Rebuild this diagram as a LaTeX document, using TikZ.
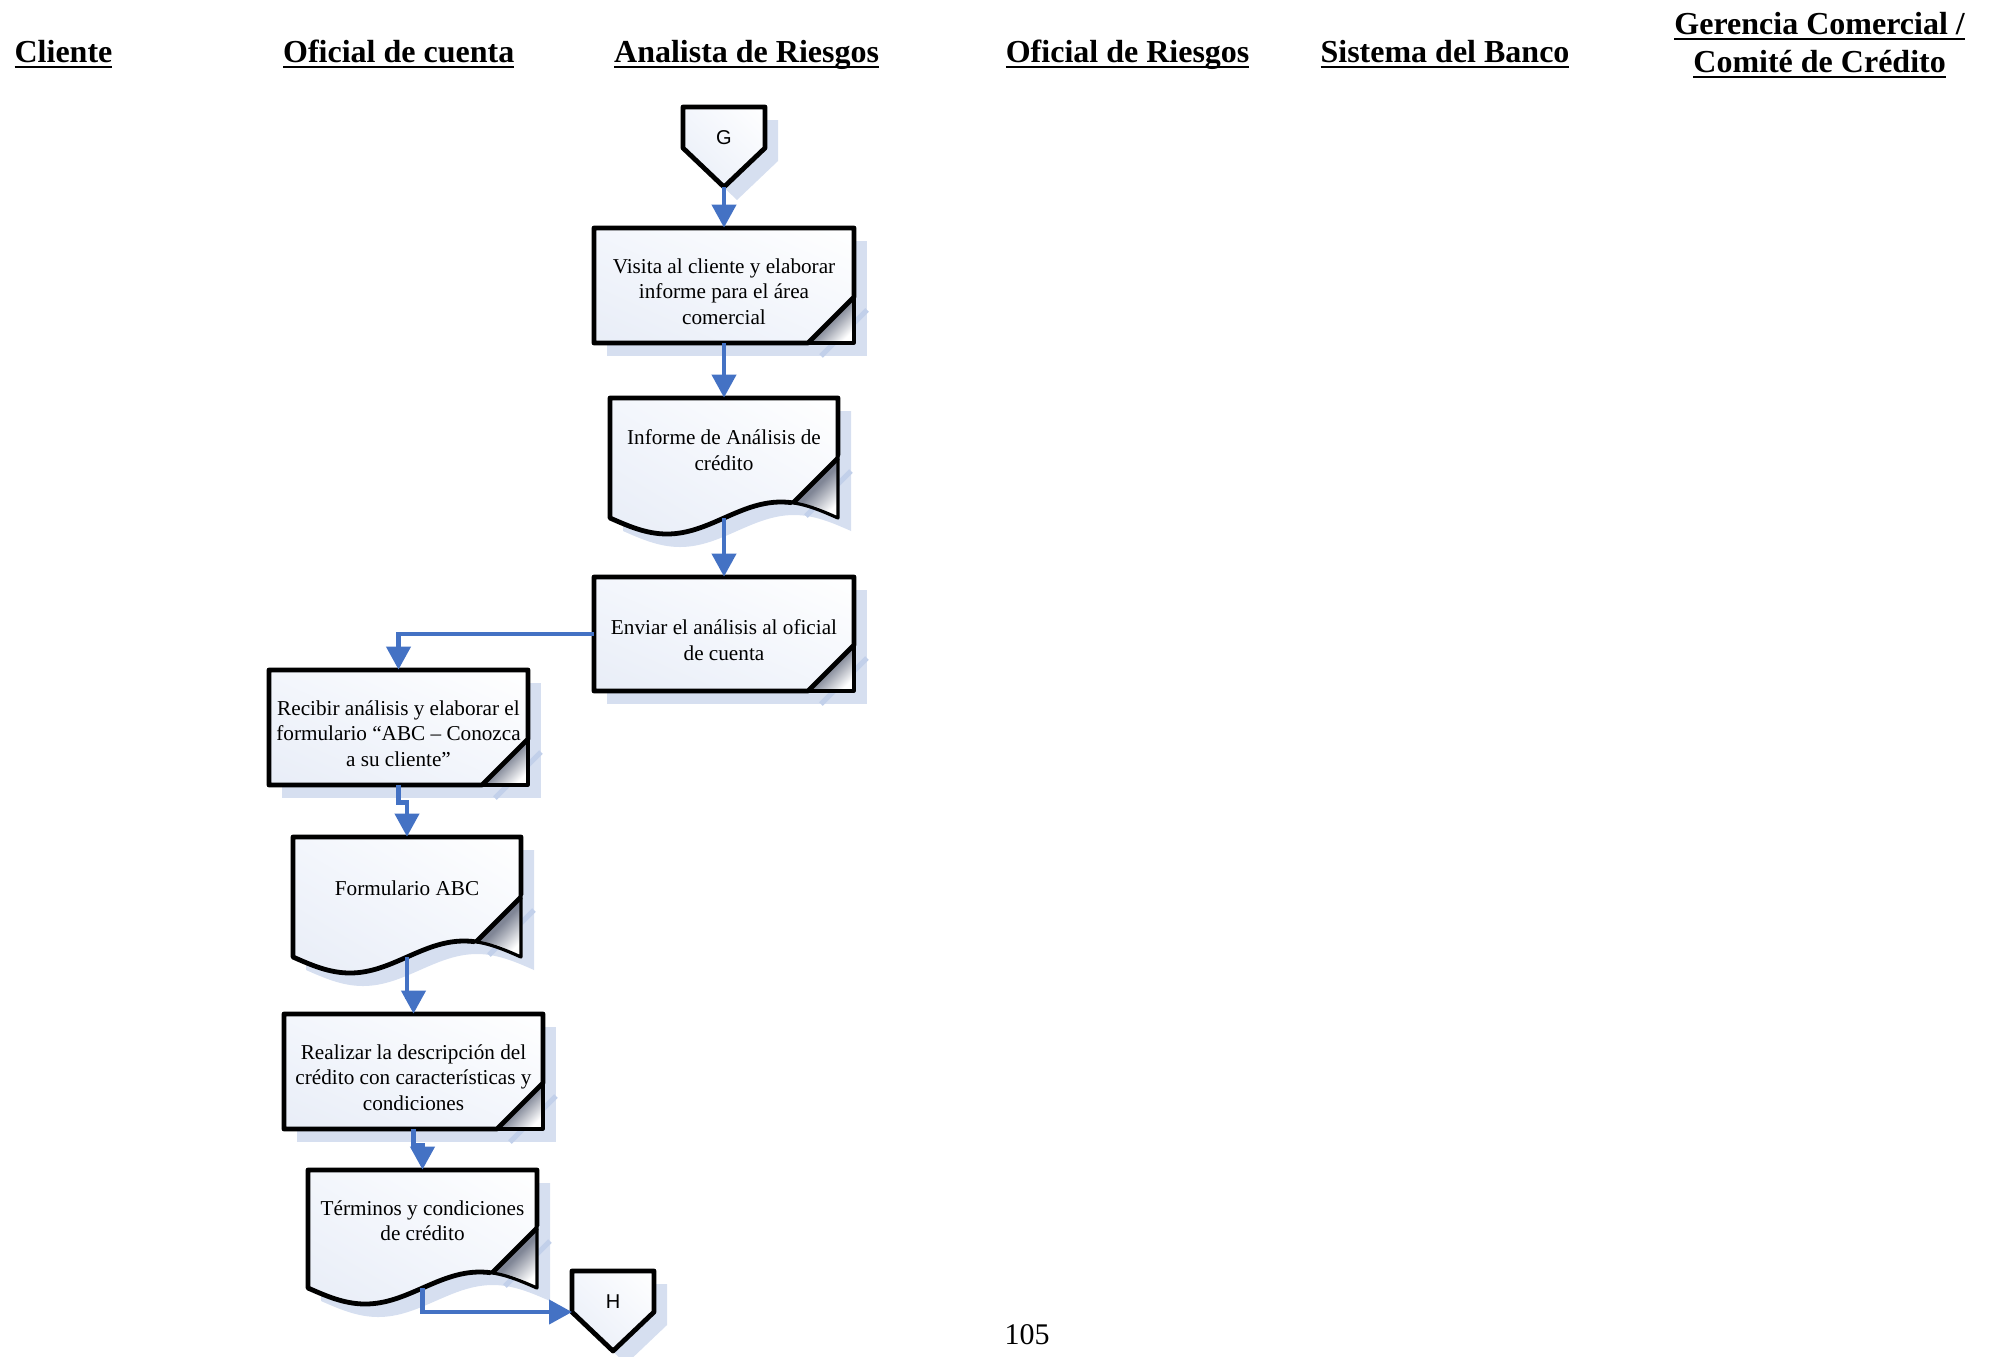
\documentclass[tikz,border=0pt]{standalone}
\usepackage{fontspec}
\setmainfont{Liberation Serif}
\newfontfamily\conlabel{Liberation Sans}
\usetikzlibrary{arrows.meta,calc,fit,shadings}

\definecolor{flowblue}{RGB}{68,114,196}
\definecolor{shadowfill}{RGB}{214,223,240}
\definecolor{shadowedge}{RGB}{194,208,234}
\definecolor{foldgray}{RGB}{128,134,150}
\definecolor{boxtint}{RGB}{232,237,247}
\definecolor{boxtintb}{RGB}{243,246,252}

% underlined column heading
\newcommand\hul[1]{\setbox0=\hbox{#1}\rlap{\rule[-3.2pt]{\wd0}{1.2pt}}\box0}

\tikzset{
  outline/.style={draw=black, line width=2.4pt, line join=round},
  thinoutline/.style={draw=black, line width=1.6pt, line join=round},
  shadowshape/.style={fill=shadowfill},
  shadowdiag/.style={draw=shadowedge, line width=2.6pt},
  bodyshade/.style={lower left=boxtint, upper left=boxtintb, lower right=boxtintb, upper right=white},
  foldshade/.style={top color=foldgray, bottom color=white, middle color=foldgray, shading angle=45},
  conn/.style={draw=flowblue, line width=2.1pt, -{Triangle[length=11.5pt,width=12pt]}},
  boxtext/.style={font=\fontsize{10.6}{12.7}\selectfont, align=center, text=black},
  header/.style={font=\fontsize{16}{19}\selectfont\bfseries, anchor=base},
  docpath/.style={insert path={(\xa,\ya) -- (\xb,\ya) -- (\xb,\yb) sin (\xb-\q,\yb-16) cos (\xb-2*\q,\yb) sin (\xa+\q,\yb+16) cos (\xa,\yb) -- cycle}},
  pentpath/.style={insert path={(\cx-41,\ty) -- (\cx+41,\ty) -- (\cx+41,\ty+41) -- (\cx,\ty+80) -- (\cx-41,\ty+41) -- cycle}},
}

% process box with folded lower right corner: name, x1, y1, x2, y2, text
\newcommand\procbox[6]{%
  \pgfmathsetmacro\xa{#2}\pgfmathsetmacro\ya{#3}%
  \pgfmathsetmacro\xb{#4}\pgfmathsetmacro\yb{#5}%
  \fill[shadowshape] (\xa+13,\ya+13) rectangle (\xb+13,\yb+13);
  \draw[shadowdiag] (\xb-33,\yb+13) -- (\xb+13,\yb-33);
  \shade[bodyshade] (\xa,\ya) rectangle (\xb,\yb);
  \shade[foldshade] (\xb-46,\yb) -- (\xb,\yb-46) -- (\xb,\yb) -- cycle;
  \draw[thinoutline] (\xb,\yb-46) -- (\xb,\yb) -- (\xb-46,\yb);
  \draw[outline] (\xb-46,\yb) -- (\xa,\yb) -- (\xa,\ya) -- (\xb,\ya) -- (\xb,\yb-46) -- cycle;
  \node[fit={(\xa,\ya) (\xb,\yb)}, inner sep=0pt] (#1) {};
  \node[boxtext] (#1-t) at (\xa/2+\xb/2,\ya/2+\yb/2+6) {#6};
}

% document shape with wavy bottom: name, x1, y1, x2, y2, text, text centre y
\newcommand\docbox[7]{%
  \pgfmathsetmacro\xa{#2}\pgfmathsetmacro\ya{#3}%
  \pgfmathsetmacro\xb{#4}\pgfmathsetmacro\yb{#5}%
  \pgfmathsetmacro\q{(#4-#2)/4}%
  \begin{scope}[shift={(13,13)}]
    \fill[shadowshape, docpath];
    \draw[shadowdiag] (\xb-45,\yb-15) -- (\xb,\yb-60);
  \end{scope}
  \shade[bodyshade, docpath];
  \shade[foldshade] (\xb-45,\yb-15) -- (\xb,\yb-60) -- (\xb,\yb) .. controls (\xb-20,\yb-12) .. (\xb-45,\yb-15) -- cycle;
  \draw[thinoutline, docpath];
  \begin{scope}
    \clip (\xa-20,\ya-20) -- (\xb+20,\ya-20) -- (\xb+20,\yb-80) -- (\xb-80,\yb+20) -- (\xa-20,\yb+40) -- cycle;
    \draw[outline, docpath];
  \end{scope}
  \draw[outline] (\xb-45,\yb-15) -- (\xb,\yb-60);
  \node[fit={(\xa,\ya) (\xb,\yb)}, inner sep=0pt] (#1) {};
  \coordinate (#1-mid) at (\xa+2*\q,\yb);
  \node[boxtext] (#1-t) at (\xa+2*\q,#7) {#6};
}

% off-page connector: name, centre x, top y, letter
\newcommand\offpage[4]{%
  \pgfmathsetmacro\cx{#2}\pgfmathsetmacro\ty{#3}%
  \begin{scope}[shift={(13,13)}]
    \fill[shadowshape, pentpath];
  \end{scope}
  \shade[bodyshade, pentpath];
  \draw[outline, pentpath];
  \node[font=\conlabel\fontsize{10}{12}\selectfont] (#1) at (\cx,\ty+31) {#4};
  \coordinate (#1-tip) at (\cx,\ty+80);
  \coordinate (#1-in) at (\cx-41,\ty+41);
}

\begin{document}
\begin{tikzpicture}[x=0.5pt,y=-0.5pt]
  \useasboundingbox (0,0) rectangle (1991,1356);

  % column headings
  \node[header] (hcli) at (63.5,62) {\hul{Cliente}};
  \node[header] (hofc) at (398.7,62) {\hul{Oficial de cuenta}};
  \node[header] (hana) at (746.6,62) {\hul{Analista de Riesgos}};
  \node[header] (hofr) at (1127.6,62) {\hul{Oficial de Riesgos}};
  \node[header] (hsis) at (1445,62) {\hul{Sistema del Banco}};
  \node[header] (hger) at (1819.6,34) {\hul{Gerencia Comercial /}};
  \node[header] (hcom) at (1819.6,72) {\hul{Comité de Crédito}};

  % flow
  \offpage{G}{724}{107}{G}
  \procbox{b1}{594}{228}{854}{343}{Visita al cliente y elaborar\\informe para el área\\comercial}
  \docbox{d1}{610}{398}{838}{518}{Informe de Análisis de\\crédito}{450}
  \procbox{b3}{594}{577}{854}{691}{Enviar el análisis al oficial\\de cuenta}
  \procbox{b4}{269}{670}{528}{785}{Recibir análisis y elaborar el\\formulario “ABC – Conozca\\a su cliente”}
  \docbox{d2}{293}{837}{521}{957}{Formulario ABC}{888}
  \procbox{b6}{284}{1014}{543}{1129}{Realizar la descripción del\\crédito con características y\\condiciones}
  \docbox{d3}{308}{1170}{537}{1288}{Términos y condiciones\\de crédito}{1221}
  \offpage{H}{613}{1271}{H}

  % connectors
  \draw[conn] (G-tip) -- (b1.north);
  \draw[conn] (b1.south) -- (d1.north);
  \draw[conn] (d1-mid) -- (b3.north);
  \draw[conn] (b3.west) -| (b4.north);
  \draw[conn] (b4.south) -- ++(0,17) -| (d2.north);
  \draw[conn] (d2-mid) -- ++(0,40) -| (b6.north);
  \draw[conn] (b6.south) -- ++(0,16) -| (d3.north);
  \draw[conn] (d3-mid) |- (H-in);

  % page number
  \node[font=\fontsize{15}{18}\selectfont, anchor=base] (pg) at (1027,1344) {105};
\end{tikzpicture}
\end{document}
